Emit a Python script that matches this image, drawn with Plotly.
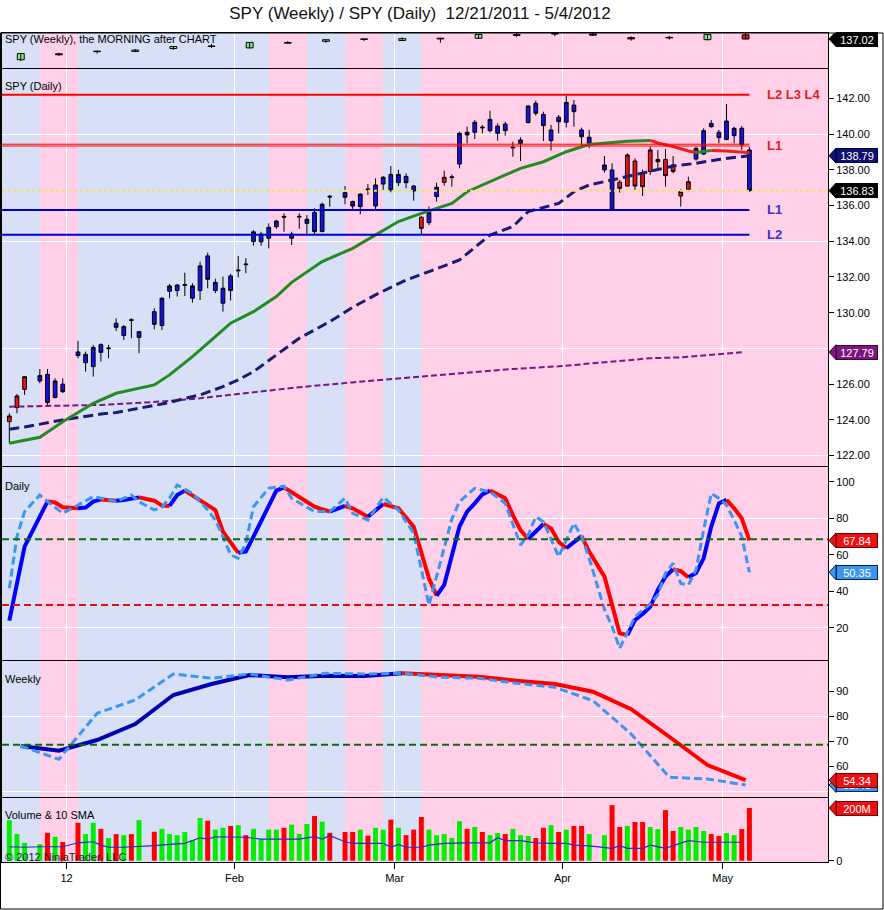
import numpy as np
import pandas as pd
import plotly.graph_objects as go

# ----------------------------------------------------------------- data
FIRST_DAY = "2011-12-21"
LAST_DAY = "2012-05-04"
HOLIDAYS = ["2011-12-26", "2012-01-02", "2012-01-16", "2012-02-20", "2012-04-06"]

# daily SPY bars, one entry per trading day
opens = [
    123.90, 124.69, 125.71,
    126.18, 126.55, 125.25, 126.00,
    127.80, 127.20, 126.98, 128.21,
    127.99, 129.41, 128.72, 129.61, 128.62,
    130.06, 129.28, 131.20, 131.24,
    131.53, 130.81, 131.24, 133.18, 131.24,
    130.53, 132.06, 132.34, 132.73, 133.98,
    133.97, 134.17, 134.81, 135.39, 134.17,
    135.35, 135.00, 135.62, 134.54, 136.52,
    136.72, 136.22, 135.94, 136.93,
    135.97, 137.20, 137.74, 137.28, 137.63,
    137.09, 135.34, 135.04, 136.50, 137.30,
    137.56, 138.32, 140.10, 140.10, 140.39,
    140.19, 140.04, 140.56, 139.22, 139.48,
    140.64, 141.72, 141.10, 139.63, 140.94,
    140.66, 141.62, 140.23, 139.48,
    137.99, 137.99, 137.30, 137.09, 138.49,
    137.80, 137.90, 138.45, 138.58, 138.27,
    136.53, 136.91, 138.60, 138.88, 140.60,
    140.10, 139.70, 139.91, 140.32, 139.11,
]
highs = [
    124.37, 125.45, 126.46,
    126.85, 126.85, 126.33, 126.33,
    128.42, 127.82, 128.20, 128.29,
    128.20, 129.69, 129.31, 129.69, 128.98,
    130.25, 130.86, 131.61, 131.61,
    132.24, 131.65, 132.85, 133.36, 131.90,
    132.02, 132.17, 133.18, 133.05, 134.63,
    134.53, 135.00, 135.20, 135.56, 134.53,
    135.56, 135.47, 135.84, 136.16, 136.59,
    137.09, 136.27, 136.68, 137.20,
    137.52, 137.65, 138.21, 138.00, 137.80,
    137.15, 135.41, 135.94, 137.28, 137.95,
    137.74, 140.13, 140.41, 140.79, 140.51,
    141.31, 140.60, 140.69, 139.57, 139.82,
    141.62, 141.87, 141.25, 140.51, 141.07,
    142.15, 141.90, 140.36, 140.23,
    138.77, 138.36, 137.43, 138.92, 138.64,
    138.02, 139.29, 139.11, 139.16, 138.77,
    136.91, 137.61, 139.29, 140.32, 140.79,
    140.23, 141.68, 140.41, 140.45, 139.29,
]
lows = [
    122.69, 124.37, 125.40,
    126.05, 124.78, 125.21, 125.50,
    127.45, 126.70, 126.42, 127.26,
    127.45, 128.98, 128.47, 128.57, 127.73,
    129.07, 129.03, 130.81, 130.90,
    130.94, 130.56, 130.71, 131.37, 131.09,
    130.06, 130.68, 131.98, 132.21, 133.75,
    133.75, 133.60, 134.70, 134.53, 133.79,
    134.70, 134.30, 134.40, 134.50, 135.94,
    136.07, 135.79, 135.51, 136.59,
    135.79, 136.87, 136.74, 137.09, 136.96,
    136.27, 134.40, 134.90, 136.22, 137.11,
    137.05, 138.08, 139.48, 139.72, 140.04,
    140.08, 139.63, 139.91, 138.73, 138.49,
    140.60, 141.03, 139.61, 139.07, 140.04,
    140.37, 140.41, 139.29, 139.20,
    137.84, 135.75, 136.72, 137.05, 136.87,
    136.53, 137.71, 138.02, 137.05, 137.80,
    135.94, 136.77, 138.51, 138.83, 140.35,
    139.48, 139.65, 139.48, 139.10, 136.77,
]
closes = [
    124.22, 125.34, 126.42,
    126.48, 124.97, 126.18, 125.58,
    127.60, 127.67, 128.06, 127.78,
    128.02, 129.18, 129.22, 129.57, 128.94,
    129.35, 130.81, 131.50, 131.55,
    131.57, 131.50, 132.62, 131.87, 131.70,
    131.37, 131.24, 132.38, 132.69, 134.53,
    134.40, 134.78, 135.13, 135.35, 134.40,
    135.39, 135.23, 134.54, 136.07, 136.48,
    136.46, 135.97, 136.64, 136.89,
    137.15, 137.58, 136.87, 137.74, 137.28,
    136.81, 134.72, 135.60, 137.02, 137.58,
    137.60, 140.04, 139.95, 140.66, 140.35,
    140.82, 140.45, 140.19, 139.26, 139.67,
    141.57, 141.16, 140.47, 140.23, 140.69,
    141.77, 141.25, 139.85, 139.82,
    138.27, 135.79, 136.96, 138.83, 137.09,
    137.05, 139.11, 138.58, 137.67, 137.90,
    136.77, 137.33, 139.20, 140.19, 140.41,
    139.80, 140.73, 140.32, 139.39, 136.83,
]
volumes_m = [
    154, 101, 68,
    63, 106, 91, 71,
    144, 101, 144, 121,
    86, 101, 97, 101, 154,
    110, 121, 101, 97,
    109, 78, 162, 152, 118,
    125, 132, 135, 97, 121,
    82, 118, 118, 125, 137,
    102, 139, 170, 148, 106,
    109, 109, 118, 95,
    125, 118, 156, 125, 97,
    118, 166, 118, 97, 101,
    86, 150, 121, 128, 109,
    97, 105, 101, 121, 97,
    94, 86, 125, 135, 109,
    118, 132, 132, 101,
    97, 211, 128, 132, 147,
    147, 128, 120, 192, 113,
    128, 118, 128, 113, 101,
    94, 105, 97, 120, 200,
]
# bars painted red by the chart's paint-bar indicator (all others blue)
red_paint_dates = ["12/21", "12/22", "12/23", "03/06", "03/09", "04/11", "04/12", "04/13",
                   "04/16", "04/17", "04/18", "04/19", "04/20", "04/23", "04/24"]

# moving averages on the price panel
ma_green_dates = ["12/21", "12/27", "12/30", "01/05", "01/10", "01/17", "01/19", "01/24", "01/27",
                  "01/31", "02/03", "02/08", "02/10", "02/13", "02/16", "02/22", "02/27", "03/01",
                  "03/06", "03/12", "03/14", "03/20", "03/23", "03/28", "04/02", "04/05", "04/10",
                  "04/12", "04/17", "04/18", "04/20", "04/24", "04/25", "04/27", "05/01", "05/04"]
ma_green_vals = [122.69, 123.03, 123.90, 124.93, 125.49, 125.96, 126.52, 127.54, 128.66,
                 129.41, 130.06, 130.90, 131.70, 132.00, 132.86, 133.60, 134.35, 135.10,
                 135.56, 136.12, 136.77, 137.52, 138.08, 138.45, 139.01, 139.42, 139.52,
                 139.60, 139.64, 139.50, 139.30, 139.05, 138.97, 139.08, 139.05, 138.95]
ma_navy_dates = ["12/21", "12/23", "12/30", "01/06", "01/10", "01/12", "01/19", "01/23", "01/25",
                 "01/30", "02/01", "02/03", "02/08", "02/13", "02/17", "02/22", "02/27", "02/29",
                 "03/02", "03/07", "03/13", "03/19", "03/22", "03/26", "03/30", "04/03", "04/05",
                 "04/10", "04/17", "04/20", "04/25", "04/30", "05/04"]
ma_navy_vals = [123.48, 123.60, 124.00, 124.33, 124.41, 124.56, 124.97, 125.21, 125.40,
                125.86, 126.24, 126.70, 127.64, 128.57, 129.50, 130.30, 131.00, 131.40,
                131.83, 132.30, 132.95, 134.35, 134.82, 135.66, 136.12, 136.77, 137.15,
                137.43, 137.90, 138.21, 138.36, 138.58, 138.79]
ma_purple_dates = ["12/21", "12/30", "01/06", "01/12", "01/19", "01/25", "01/31", "02/07", "02/13",
                   "02/22", "03/02", "03/13", "03/22", "03/30", "04/03", "04/10", "04/17", "04/23",
                   "04/27", "05/03"]
ma_purple_vals = [124.74, 124.78, 124.84, 124.93, 125.06, 125.21, 125.40, 125.64, 125.83,
                  126.10, 126.35, 126.60, 126.85, 127.00, 127.08, 127.26, 127.45, 127.50,
                  127.64, 127.79]

# horizontal levels
level_top = 142.20          # L2 L3 L4
level_l1_red = [139.43, 139.33]
level_l1_blue = 135.75
level_l2_blue = 134.37

# daily stochastics
d_slow_dates = ["12/21", "12/23", "12/28", "12/29", "12/30", "01/03", "01/04", "01/05", "01/06",
                "01/10", "01/11", "01/13", "01/17", "01/18", "01/19", "01/20", "01/23", "01/25",
                "01/27", "01/30", "02/01", "02/02", "02/03", "02/07", "02/08", "02/09", "02/13",
                "02/15", "02/17", "02/21", "02/22", "02/24", "02/28", "03/01", "03/05", "03/07",
                "03/08", "03/09", "03/13", "03/14", "03/15", "03/16", "03/19", "03/20", "03/21",
                "03/22", "03/23", "03/26", "03/27", "03/28", "03/29", "03/30", "04/02", "04/03",
                "04/04", "04/05", "04/09", "04/10", "04/11", "04/12", "04/13", "04/16", "04/17",
                "04/18", "04/19", "04/20", "04/23", "04/24", "04/25", "04/26", "04/27", "04/30",
                "05/01", "05/02", "05/03", "05/04"]
d_slow_vals = [23.9, 64.4, 89.1, 88.6, 86.0, 85.4, 85.8, 89.1, 90.3,
               89.6, 90.0, 91.4, 89.6, 86.9, 86.7, 92.7, 95.1, 90.0,
               84.5, 72.6, 61.0, 61.8, 69.9, 86.3, 95.1, 96.9, 91.8,
               86.3, 83.6, 86.7, 85.4, 80.8, 87.8, 85.4, 75.3, 47.0,
               37.5, 43.5, 75.4, 83.6, 88.1, 93.0, 95.1, 93.2, 90.9,
               81.7, 73.5, 68.6, 72.6, 76.8, 74.4, 67.1, 63.5, 67.0,
               70.2, 61.7, 48.0, 31.5, 16.9, 16.0, 24.2, 27.5, 31.5,
               40.7, 48.0, 52.0, 51.0, 47.6, 50.0, 58.0, 75.4, 88.1,
               90.0, 85.4, 79.9, 67.84]
d_fast_dates = ["12/21", "12/22", "12/23", "12/27", "12/28", "12/30", "01/03", "01/05", "01/10",
                "01/12", "01/13", "01/17", "01/18", "01/19", "01/20", "01/24", "01/26", "01/27",
                "01/30", "01/31", "02/01", "02/02", "02/03", "02/07", "02/09", "02/10", "02/15",
                "02/17", "02/21", "02/22", "02/24", "02/28", "03/01", "03/05", "03/07", "03/08",
                "03/09", "03/12", "03/13", "03/15", "03/19", "03/21", "03/23", "03/26", "03/27",
                "03/28", "03/30", "04/03", "04/04", "04/05", "04/09", "04/10", "04/11", "04/13",
                "04/16", "04/17", "04/18", "04/19", "04/20", "04/23", "04/24", "04/25", "04/26",
                "04/27", "04/30", "05/01", "05/02", "05/03", "05/04"]
d_fast_vals = [41.6, 69.9, 83.6, 92.7, 89.1, 82.7, 87.2, 91.8, 89.1,
               92.7, 89.0, 84.5, 86.0, 91.0, 98.2, 93.6, 84.5, 79.0,
               70.0, 60.0, 58.0, 66.2, 86.3, 96.4, 97.6, 90.9, 83.6,
               83.6, 90.9, 82.7, 79.0, 91.4, 84.5, 71.7, 32.4, 48.0,
               64.0, 79.5, 89.1, 96.4, 94.5, 88.1, 65.3, 70.8, 80.8,
               78.1, 58.9, 77.2, 70.0, 58.0, 30.0, 20.6, 8.7, 26.0,
               29.7, 33.0, 38.0, 50.0, 55.3, 44.3, 43.4, 51.6, 73.5,
               93.6, 90.9, 87.2, 79.0, 70.0, 50.35]
osc_upper = 68.5
osc_lower = 32.4

# weekly bars (week ending Friday) and weekly stochastics
wk_dates = ["12/23", "12/30", "01/06", "01/13", "01/20", "01/27", "02/03", "02/10", "02/17", "02/24",
            "03/02", "03/09", "03/16", "03/23", "03/30", "04/06", "04/13", "04/20", "04/27", "05/04"]
wk_open = [121.90, 126.20, 127.80, 128.00, 130.06, 131.53, 130.53, 133.97, 135.35, 136.72,
           135.97, 137.09, 137.56, 140.19, 140.64, 140.66, 137.99, 137.80, 136.53, 140.10]
wk_high = [126.50, 126.90, 128.40, 129.70, 131.60, 133.36, 134.63, 135.56, 136.16, 137.20,
           138.21, 137.95, 140.79, 141.31, 141.87, 142.15, 138.92, 139.29, 140.32, 141.68]
wk_low = [120.90, 124.80, 126.40, 127.50, 129.00, 130.56, 130.06, 133.60, 134.30, 135.51,
          135.79, 134.40, 137.05, 138.49, 139.07, 139.20, 135.75, 136.53, 135.94, 136.77]
wk_close = [126.40, 125.50, 127.78, 128.94, 131.55, 131.70, 134.53, 134.40, 136.48, 136.89,
            137.28, 137.58, 140.35, 139.67, 140.69, 139.82, 137.09, 137.90, 140.41, 137.02]
wk_slow = [68.0, 66.1, 70.4, 76.8, 88.4, 92.8, 96.4, 95.5, 96.1, 96.0,
           97.1, 96.4, 95.7, 94.1, 92.8, 89.7, 82.7, 71.7, 60.4, 54.34]
wk_fast = [68.0, 62.7, 81.1, 86.4, 96.8, 95.1, 96.8, 94.4, 97.1, 96.8,
           97.1, 95.5, 95.1, 93.1, 91.5, 86.1, 72.8, 55.5, 54.8, 52.43]
wk_slow_signal = ["buy"] * 11 + ["sell"] * 9

# volume 10 SMA
vol_sma_dates = ["12/21", "12/23", "12/27", "12/30", "01/03", "01/05", "01/06", "01/09", "01/11",
                 "01/13", "01/17", "01/19", "01/23", "01/25", "01/26", "01/27", "01/31", "02/02",
                 "02/06", "02/09", "02/13", "02/15", "02/16", "02/17", "02/21", "02/22", "02/24",
                 "02/28", "02/29", "03/01", "03/02", "03/06", "03/07", "03/09", "03/14", "03/19",
                 "03/20", "03/21", "03/23", "03/27", "03/29", "04/02", "04/03", "04/05", "04/10",
                 "04/11", "04/12", "04/16", "04/17", "04/19", "04/20", "04/24", "04/26", "04/30",
                 "05/03"]
vol_sma_vals = [53, 51, 53, 53, 68, 72, 59, 51, 51,
                53, 57, 62, 66, 87, 82, 91, 91, 89,
                82, 82, 82, 91, 82, 95, 72, 66, 66,
                66, 51, 62, 51, 51, 59, 66, 68, 68,
                87, 76, 76, 68, 66, 66, 59, 56, 47,
                57, 47, 47, 59, 47, 57, 76, 70, 70,
                70]

month_starts = ["2012-01-01", "2012-02-01", "2012-03-01", "2012-04-01", "2012-05-01"]
month_labels = ["12", "Feb", "Mar", "Apr", "May"]

# right-axis labels (labels hidden behind value flags in the reference are left out)
price_ticks = [122, 124, 126, 130, 132, 134, 136, 138, 140, 142]
daily_ticks = [20, 40, 60, 80, 100]
weekly_ticks = [60, 70, 80, 90]
volume_ticks = [0]

# ----------------------------------------------------------------- helpers
FONT = "Liberation Sans, Arial, sans-serif"
W, H = 884, 910
ML, MR, MT, MB = 2, 56, 33, 48
PW, PH = W - ML - MR, H - MT - MB


def pyp(px):
    return (H - MB - px) / PH


def pxp(px):
    return (px - ML) / PW


def full_date(md):
    m, d = md.split("/")
    return f"{2011 if m == '12' else 2012}-{m}-{d}"


def xpos(date):
    return float(np.busday_count(np.datetime64(FIRST_DAY), np.datetime64(date)))


def xs_of(mds):
    return [xpos(full_date(s)) for s in mds]


trade_days = [d.strftime("%Y-%m-%d") for d in pd.bdate_range(FIRST_DAY, LAST_DAY)
              if d.strftime("%Y-%m-%d") not in HOLIDAYS]
tx = [xpos(d) for d in trade_days]
red_set = set(full_date(s) for s in red_paint_dates)
wx = [xpos(full_date(s)) - 0.5 for s in wk_dates]
half_week = 2.5
month_x = [xpos(m) - 0.5 for m in month_starts]
XR = [-0.96, 107.3]

# panels: axis suffix, top px, bottom px, y range
PANELS = [
    ("", 33, 68, [115.85, 141.4]),
    ("2", 69, 466, [121.42, 143.64]),
    ("3", 467, 660, [2.3, 108.05]),
    ("4", 661, 797, [47.6, 102.0]),
    ("5", 798, 862, [-4.9, 238.0]),
]
PINFO = {p[0]: p for p in PANELS}

BLUE_BG = "#D7E0F6"
PINK_BG = "#FFD0E8"
GRID = "rgba(255,255,255,0.95)"

fig = go.Figure()


def seg_runs(xs, ys, seg):
    out, a, n = [], 1, len(xs)
    for k in range(1, n):
        if k == n - 1 or seg[k + 1] != seg[k]:
            out.append((seg[k], xs[a - 1:k + 1], ys[a - 1:k + 1]))
            a = k + 1
    return out


def add_line(xs, ys, ax, color, width, dash="solid"):
    fig.add_trace(go.Scatter(x=xs, y=ys, mode="lines", xaxis=f"x{ax}", yaxis=f"y{ax}",
                             line=dict(color=color, width=width, dash=dash),
                             showlegend=False, hoverinfo="skip"))


def add_colored(xs, ys, seg, ax, width, dash="solid"):
    for color, sx, sy in seg_runs(xs, ys, seg):
        add_line(sx, sy, ax, color, width, dash)


# ----------------------------------------------------------------- background bands
pink_weeks = [k > 0 and wk_slow[k] < wk_slow[k - 1] for k in range(len(wk_slow))]
runs = []
k = 0
while k < len(pink_weeks):
    if pink_weeks[k]:
        j = k
        while j + 1 < len(pink_weeks) and pink_weeks[j + 1]:
            j += 1
        x0 = wx[k] - half_week
        x1 = wx[j] + half_week if j < len(pink_weeks) - 1 else XR[1]
        runs.append((x0, x1))
        k = j + 1
    else:
        k += 1
for ax, top, bot, rng in PANELS:
    for x0, x1 in runs:
        fig.add_shape(type="rect", xref=f"x{ax}", yref=f"y{ax} domain", x0=x0, x1=x1, y0=0, y1=1,
                      fillcolor=PINK_BG, line=dict(width=0), layer="below")

# ----------------------------------------------------------------- weekly strip
wick_x, wick_y = [], []
for i in range(len(wx)):
    wick_x += [wx[i], wx[i], None]
    wick_y += [wk_low[i], wk_high[i], None]
fig.add_trace(go.Scatter(x=wick_x, y=wick_y, mode="lines", xaxis="x", yaxis="y",
                         line=dict(color="black", width=1), showlegend=False, hoverinfo="skip"))
min_body = 0.4
fig.add_trace(go.Bar(
    x=wx, base=[min(o, c) for o, c in zip(wk_open, wk_close)],
    y=[max(abs(c - o), min_body) for o, c in zip(wk_open, wk_close)],
    width=0.9, xaxis="x", yaxis="y",
    marker=dict(color=["#86F086" if c >= o else "#EE1111" for o, c in zip(wk_open, wk_close)],
                line=dict(color="black", width=1)),
    showlegend=False, hoverinfo="skip"))

# ----------------------------------------------------------------- price panel
fig.add_shape(type="line", xref="x2", yref="y2", x0=XR[0], x1=tx[-1], y0=level_top, y1=level_top,
              line=dict(color="#FF0000", width=2))
for v in level_l1_red:
    fig.add_shape(type="line", xref="x2", yref="y2", x0=XR[0], x1=tx[-1], y0=v, y1=v,
                  line=dict(color="#FF0000", width=1))
for v in (level_l1_blue, level_l2_blue):
    fig.add_shape(type="line", xref="x2", yref="y2", x0=XR[0], x1=tx[-1], y0=v, y1=v,
                  line=dict(color="#0000CD", width=2))
fig.add_shape(type="line", xref="x2 domain", yref="y2", x0=0, x1=1, y0=closes[-1], y1=closes[-1],
              line=dict(color="#EEE36A", width=2, dash="dot"))

# moving averages
px_ = xs_of(ma_purple_dates)
add_line(px_, ma_purple_vals, "2", "#7D157D", 2, "6px,3px")
nx_ = xs_of(ma_navy_dates)
add_line(nx_, ma_navy_vals, "2", "#1A1A72", 3, "10px,5px")
gx_ = xs_of(ma_green_dates)
gseg = [None] + ["#EE2020" if ma_green_vals[i] < ma_green_vals[i - 1] else "#228B22"
                 for i in range(1, len(gx_))]
add_colored(gx_, ma_green_vals, gseg, "2", 3)

# candles, painted red / blue
for paint, fill in (("R", "#EE1111"), ("B", "#1212E6")):
    sel = [i for i, d in enumerate(trade_days) if (d in red_set) == (paint == "R")]
    fig.add_trace(go.Candlestick(
        x=[tx[i] for i in sel], open=[opens[i] for i in sel], high=[highs[i] for i in sel],
        low=[lows[i] for i in sel], close=[closes[i] for i in sel],
        xaxis="x2", yaxis="y2", whiskerwidth=0,
        increasing=dict(line=dict(color="black", width=1), fillcolor=fill),
        decreasing=dict(line=dict(color="black", width=1), fillcolor=fill),
        showlegend=False, hoverinfo="skip"))

# ----------------------------------------------------------------- daily stochastics
for v, col in ((osc_upper, "#0B6B0B"), (osc_lower, "#E01010")):
    fig.add_shape(type="line", xref="x3 domain", yref="y3", x0=0, x1=1, y0=v, y1=v,
                  line=dict(color=col, width=2, dash="7px,4px"))
sx_ = xs_of(d_slow_dates)
sseg = [None] + ["#FF0000" if d_slow_vals[i] < d_slow_vals[i - 1] else "#0000FF"
                 for i in range(1, len(sx_))]
add_colored(sx_, d_slow_vals, sseg, "3", 4)
add_line(xs_of(d_fast_dates), d_fast_vals, "3", "#3A96F0", 3, "8px,4px")

# ----------------------------------------------------------------- weekly stochastics
fig.add_shape(type="line", xref="x4 domain", yref="y4", x0=0, x1=1, y0=osc_upper, y1=osc_upper,
              line=dict(color="#0B6B0B", width=2, dash="7px,4px"))
wseg = [None] + ["#FF0000" if wk_slow_signal[i] == "sell" else "#0000B0" for i in range(1, len(wx))]
add_colored(wx, wk_slow, wseg, "4", 4)
add_line(wx, wk_fast, "4", "#3A96F0", 3, "8px,4px")

# ----------------------------------------------------------------- volume
fig.add_trace(go.Bar(
    x=tx, y=volumes_m, width=0.65, xaxis="x5", yaxis="y5",
    marker=dict(color=["#00EE00" if c >= o else "#FF0000" for o, c in zip(opens, closes)],
                line=dict(width=0)),
    showlegend=False, hoverinfo="skip"))
add_line(xs_of(vol_sma_dates), vol_sma_vals, "5", "#2A2AC8", 1.2)

# ----------------------------------------------------------------- axes
layout = dict(
    width=W, height=H, margin=dict(l=ML, r=MR, t=MT, b=MB, pad=0),
    paper_bgcolor="white", plot_bgcolor=BLUE_BG,
    barmode="overlay", showlegend=False, hovermode=False,
    font=dict(family=FONT, size=11, color="black"),
    title=dict(text="SPY (Weekly) / SPY (Daily)  12/21/2011 - 5/4/2012", x=pxp(420), xref="paper",
               xanchor="center", y=1 - 13 / H, yref="container", yanchor="middle",
               font=dict(family=FONT, size=17, color="#111111")),
)
Y_TICKS = {
    "": dict(tickvals=[], minor=[]),
    "2": dict(tickvals=price_ticks, fmt=".2f", minor=[122, 128, 134, 140]),
    "3": dict(tickvals=daily_ticks, fmt="d", minor=[20, 80]),
    "4": dict(tickvals=weekly_ticks, fmt="d", minor=[50, 80]),
    "5": dict(tickvals=volume_ticks, fmt="d", minor=[]),
}
for ax, top, bot, rng in PANELS:
    xa = dict(domain=[0, 1], range=XR, anchor=f"y{ax}", showline=True, mirror=True,
              linecolor="black", linewidth=1, zeroline=False, showgrid=True, gridcolor=GRID,
              gridwidth=1, tickmode="array", tickvals=month_x, ticktext=month_labels,
              rangeslider=dict(visible=False), fixedrange=True, automargin=False)
    if ax != "":
        xa["matches"] = "x"
    if ax == "5":
        xa.update(ticks="outside", ticklen=6, tickcolor="black", showticklabels=True,
                  tickfont=dict(size=11, family=FONT))
    else:
        xa.update(ticks="", showticklabels=False)
    t = Y_TICKS[ax]
    ya = dict(domain=[pyp(bot), pyp(top)], range=rng, anchor=f"x{ax}", side="right",
              showline=True, mirror=True, linecolor="black", linewidth=1, zeroline=False,
              showgrid=False, tickmode="array", tickvals=t["tickvals"], ticks="outside",
              ticklen=5, tickcolor="black", tickfont=dict(size=11, family=FONT),
              fixedrange=True, automargin=False)
    if "fmt" in t:
        ya["tickformat"] = t["fmt"]
    if t["minor"]:
        ya["minor"] = dict(tickmode="array", tickvals=t["minor"], showgrid=True, gridcolor=GRID,
                           gridwidth=1, ticks="")
    if not t["tickvals"]:
        ya.update(ticks="", showticklabels=False)
    layout[f"xaxis{ax}"] = xa
    layout[f"yaxis{ax}"] = ya
fig.update_layout(**layout)

# ----------------------------------------------------------------- texts
def label(text, px_y, size=11, color="black"):
    fig.add_annotation(xref="paper", yref="paper", x=pxp(3), y=pyp(px_y), xanchor="left",
                       yanchor="middle", text=text, showarrow=False,
                       font=dict(size=size, color=color, family=FONT))


label("SPY (Weekly), the MORNING after CHART", 39)
label("SPY (Daily)", 86)
label("Daily", 486)
label("Weekly", 679)
label("Volume &amp; 10 SMA", 815)
label("© 2012 NinjaTrader, LLC", 857, color="#222222")

for txt, v, col in (("L2 L3 L4", level_top, "#E41E1E"),
                    ("L1", sum(level_l1_red) / 2, "#E41E1E"),
                    ("L1", level_l1_blue, "#3535C8"),
                    ("L2", level_l2_blue, "#3535C8")):
    fig.add_annotation(xref="paper", yref="y2", x=pxp(765), y=v, xanchor="left", yanchor="middle",
                       text=f"<b>{txt}</b>", showarrow=False,
                       font=dict(size=13, color=col, family=FONT))


def tag(ax, value, text, bg, border):
    _, top, bot, rng = PINFO[ax]
    ppu = (bot - top) / (rng[1] - rng[0])
    h = 7.5 / ppu
    xt, xb = pxp(829), pxp(836)
    fig.add_shape(type="path", xref="paper", yref=f"y{ax}",
                  path=f"M{xt},{value} L{xb},{value + h} L{xb},{value - h} Z",
                  fillcolor=bg, line=dict(color=border, width=1), layer="above")
    fig.add_annotation(xref="paper", yref=f"y{ax}", x=xb, y=value, xanchor="left",
                       yanchor="middle", text=text, showarrow=False, bgcolor=bg,
                       bordercolor=border, borderwidth=1, borderpad=0, width=40, height=13,
                       font=dict(color="white", size=11, family=FONT))


tag("", wk_close[-1], f"{wk_close[-1]:.2f}", "#000000", "#000000")
tag("2", ma_navy_vals[-1], f"{ma_navy_vals[-1]:.2f}", "#10106E", "#000040")
tag("2", closes[-1], f"{closes[-1]:.2f}", "#000000", "#000000")
tag("2", ma_purple_vals[-1], f"{ma_purple_vals[-1]:.2f}", "#7D157D", "#400040")
tag("3", d_slow_vals[-1], f"{d_slow_vals[-1]:.2f}", "#EE1111", "#700000")
tag("3", d_fast_vals[-1], f"{d_fast_vals[-1]:.2f}", "#3A96F0", "#00205A")
tag("4", wk_fast[-1], f"{wk_fast[-1]:.2f}", "#3A96F0", "#00205A")
tag("4", wk_slow[-1], f"{wk_slow[-1]:.2f}", "#EE1111", "#700000")
tag("5", volumes_m[-1], f"{volumes_m[-1]:.0f}M", "#EE1111", "#700000")

# outer frame
fig.add_shape(type="rect", xref="paper", yref="paper", x0=pxp(0.5), x1=pxp(883), y0=pyp(909),
              y1=pyp(33), line=dict(color="black", width=1), fillcolor="rgba(0,0,0,0)",
              layer="above")

fig.write_html("out.html", config={"displayModeBar": False},
               post_script="document.body.style.margin='0px';"
                           "document.body.style.overflow='hidden';")
